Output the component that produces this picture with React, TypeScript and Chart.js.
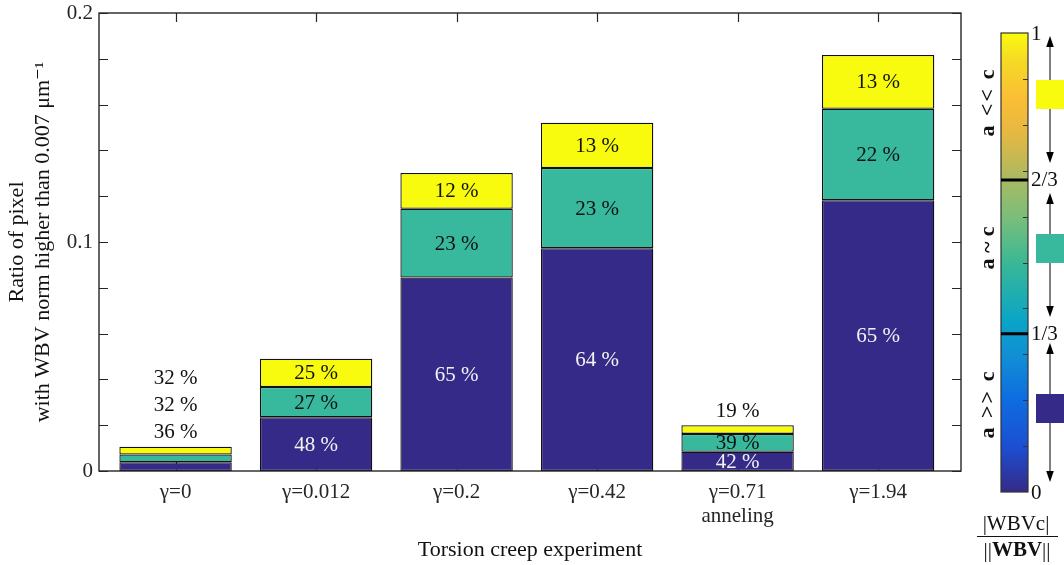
import React, { useEffect, useRef } from 'react';
import { Chart, registerables } from 'chart.js';

Chart.register(...registerables);

// ---- data ----
const CATEGORIES = ['γ=0', 'γ=0.012', 'γ=0.2', 'γ=0.42', 'γ=0.71 anneling', 'γ=1.94'];
const X_TICK_LABELS = [['γ=0'], ['γ=0.012'], ['γ=0.2'], ['γ=0.42'], ['γ=0.71', 'anneling'], ['γ=1.94']];
const SERIES_NAMES = ['a >> c', 'a ~ c', 'a << c'];
const A_GT_C = [0.0038, 0.0235, 0.0845, 0.0973, 0.0084, 0.1182];
const A_SIM_C = [0.0034, 0.0132, 0.03, 0.035, 0.0078, 0.04];
const A_LT_C = [0.0034, 0.0123, 0.0156, 0.0198, 0.0038, 0.0235];
const Y_MIN = 0;
const Y_MAX = 0.2;
const Y_STEP = 0.02;
const Y_LABELED = [0, 0.1, 0.2];
const CB_TICKS = [0.1, 0.2, 0.3, 0.4, 0.5, 0.6, 0.7, 0.8, 0.9];
const CB_BOUNDS = [0.345, 0.68];
const CB_LABELS = [
  { v: 0, t: '0' },
  { v: 0.345, t: '1/3' },
  { v: 0.68, t: '2/3' },
  { v: 1, t: '1' },
];
const CB_TITLE_TOP = '|WBVc|';
const CB_TITLE_BOTTOM = ['||', 'WBV', '||'];
const X_TITLE = 'Torsion creep experiment';
const Y_TITLE = ['Ratio of pixel', 'with WBV norm higher than 0.007 μm⁻¹'];

// ---- styles ----
const COLORS = ['#352A87', '#38B89D', '#F9FB0E'];
const FONT = '"Liberation Serif", "DejaVu Serif", serif';
const AXIS_COLOR = '#262626';
const CB_STOPS: [number, string][] = [
  [0, '#352A87'],
  [0.1, '#1B4FD2'],
  [0.2, '#0E6CE0'],
  [0.3, '#1190D4'],
  [0.37, '#09A4C8'],
  [0.5, '#3AB895'],
  [0.6, '#7BBE7A'],
  [0.68, '#A7BA63'],
  [0.78, '#E5B842'],
  [0.86, '#FBBE35'],
  [0.94, '#F5DA25'],
  [1, '#F9FB0E'],
];

const CB = { x: 1001, y: 33, w: 27, h: 459 };

function cbY(v: number) {
  return CB.y + CB.h * (1 - v);
}

function drawArrow(ctx: CanvasRenderingContext2D, x: number, y1: number, y2: number) {
  const hl = 11;
  const hw = 3.8;
  ctx.strokeStyle = '#000';
  ctx.fillStyle = '#000';
  ctx.lineWidth = 1;
  ctx.beginPath();
  ctx.moveTo(x, y1 + hl - 1);
  ctx.lineTo(x, y2 - hl + 1);
  ctx.stroke();
  ctx.beginPath();
  ctx.moveTo(x, y1);
  ctx.lineTo(x - hw, y1 + hl);
  ctx.lineTo(x + hw, y1 + hl);
  ctx.closePath();
  ctx.fill();
  ctx.beginPath();
  ctx.moveTo(x, y2);
  ctx.lineTo(x - hw, y2 - hl);
  ctx.lineTo(x + hw, y2 - hl);
  ctx.closePath();
  ctx.fill();
}

const axesPlugin = {
  id: 'axesPlugin',
  beforeDatasetsDraw(chart: any) {
    const { ctx, chartArea } = chart;
    const xs = chart.scales.x;
    const ys = chart.scales.y;
    ctx.save();
    ctx.strokeStyle = AXIS_COLOR;
    ctx.lineWidth = 1.2;
    const tl = 9;
    ctx.beginPath();
    for (let v = Y_MIN; v <= Y_MAX + 1e-9; v += Y_STEP) {
      const y = Math.round(ys.getPixelForValue(v)) + 0.5;
      ctx.moveTo(chartArea.left, y);
      ctx.lineTo(chartArea.left + tl, y);
      ctx.moveTo(chartArea.right, y);
      ctx.lineTo(chartArea.right - tl, y);
    }
    for (let i = 0; i < CATEGORIES.length; i++) {
      const x = Math.round(xs.getPixelForValue(i + 1)) + 0.5;
      ctx.moveTo(x, chartArea.top);
      ctx.lineTo(x, chartArea.top + tl);
      ctx.moveTo(x, chartArea.bottom);
      ctx.lineTo(x, chartArea.bottom - tl);
    }
    ctx.stroke();
    ctx.restore();
  },
  afterDatasetsDraw(chart: any) {
    const { ctx, chartArea } = chart;
    const ys = chart.scales.y;
    ctx.save();
    ctx.strokeStyle = AXIS_COLOR;
    ctx.lineWidth = 1.4;
    ctx.strokeRect(chartArea.left, chartArea.top, chartArea.right - chartArea.left, chartArea.bottom - chartArea.top);

    ctx.font = `21px ${FONT}`;
    ctx.textAlign = 'center';
    ctx.textBaseline = 'middle';
    const series = [A_GT_C, A_SIM_C, A_LT_C];
    for (let i = 0; i < CATEGORIES.length; i++) {
      const total = series.reduce((s, arr) => s + arr[i], 0);
      const topPix = ys.getPixelForValue(total);
      let above = 0;
      for (let d = 0; d < series.length; d++) {
        const el = chart.getDatasetMeta(d).data[i];
        const pct = Math.round((series[d][i] / total) * 100);
        const txt = `${pct} %`;
        const h = el.base - el.y;
        if (h >= 14) {
          ctx.fillStyle = d === 0 ? '#f2f2f2' : '#111';
          ctx.fillText(txt, el.x, (el.y + el.base) / 2 + 1);
        } else {
          ctx.fillStyle = '#111';
          ctx.fillText(txt, el.x, topPix - 14 - above * 27);
          above++;
        }
      }
    }
    ctx.restore();
  },
  afterDraw(chart: any) {
    const { ctx } = chart;
    ctx.save();
    const g = ctx.createLinearGradient(0, CB.y + CB.h, 0, CB.y);
    CB_STOPS.forEach(([p, c]) => g.addColorStop(p, c));
    ctx.fillStyle = g;
    ctx.fillRect(CB.x, CB.y, CB.w, CB.h);
    ctx.strokeStyle = '#333';
    ctx.lineWidth = 1.2;
    ctx.strokeRect(CB.x, CB.y, CB.w, CB.h);
    ctx.beginPath();
    CB_TICKS.forEach((v) => {
      const y = Math.round(cbY(v)) + 0.5;
      ctx.moveTo(CB.x + CB.w - 5, y);
      ctx.lineTo(CB.x + CB.w, y);
    });
    ctx.stroke();
    ctx.strokeStyle = '#000';
    ctx.lineWidth = 3;
    ctx.beginPath();
    CB_BOUNDS.forEach((v) => {
      const y = cbY(v);
      ctx.moveTo(CB.x, y);
      ctx.lineTo(CB.x + CB.w, y);
    });
    ctx.stroke();
    ctx.fillStyle = '#111';
    ctx.font = `21px ${FONT}`;
    ctx.textAlign = 'left';
    ctx.textBaseline = 'middle';
    CB_LABELS.forEach(({ v, t }) => {
      ctx.fillText(t, CB.x + CB.w + 3, cbY(v) + 1);
    });
    drawArrow(ctx, 1050, 36, 163);
    drawArrow(ctx, 1050, 193, 317);
    drawArrow(ctx, 1050, 343, 482);
    ctx.fillStyle = COLORS[2];
    ctx.fillRect(1036, 80, 28, 29);
    ctx.fillStyle = COLORS[1];
    ctx.fillRect(1036, 234, 28, 29);
    ctx.fillStyle = COLORS[0];
    ctx.fillRect(1036, 394, 28, 29);
    ctx.fillStyle = '#111';
    ctx.font = `bold 22px ${FONT}`;
    ctx.textAlign = 'center';
    ctx.textBaseline = 'alphabetic';
    const centers = [404, 248, 102];
    SERIES_NAMES.forEach((name, k) => {
      ctx.save();
      ctx.translate(994, centers[k]);
      ctx.rotate(-Math.PI / 2);
      (ctx as any).letterSpacing = name.includes('~') ? '0px' : '2px';
      ctx.fillText(name, 0, 0);
      ctx.restore();
    });
    ctx.font = `21px ${FONT}`;
    ctx.textAlign = 'center';
    ctx.textBaseline = 'middle';
    ctx.fillText(CB_TITLE_TOP, 1016, 524);
    ctx.strokeStyle = '#111';
    ctx.lineWidth = 1;
    ctx.beginPath();
    ctx.moveTo(977, 536.5);
    ctx.lineTo(1058, 536.5);
    ctx.stroke();
    const fonts = [`21px ${FONT}`, `bold 21px ${FONT}`, `21px ${FONT}`];
    const widths = CB_TITLE_BOTTOM.map((t, k) => {
      ctx.font = fonts[k];
      return ctx.measureText(t).width;
    });
    const tw = widths.reduce((a, b) => a + b, 0);
    let xx = 1017 - tw / 2;
    ctx.textAlign = 'left';
    CB_TITLE_BOTTOM.forEach((t, k) => {
      ctx.font = fonts[k];
      ctx.fillText(t, xx, 551);
      xx += widths[k];
    });
    ctx.restore();
  },
};

export default function App() {
  const ref = useRef<HTMLCanvasElement | null>(null);
  useEffect(() => {
    if (!ref.current) return;
    Chart.defaults.font.family = FONT;
    Chart.defaults.color = AXIS_COLOR;
    const series = [A_GT_C, A_SIM_C, A_LT_C];
    const chart = new Chart(ref.current, {
      type: 'bar',
      data: {
        datasets: series.map((arr, d) => ({
          label: SERIES_NAMES[d],
          data: arr.map((v, i) => ({ x: i + 1, y: v })),
          backgroundColor: COLORS[d],
          borderColor: '#111',
          borderWidth: 1.3,
          borderSkipped: false,
          barPercentage: 0.8,
          categoryPercentage: 1,
        })),
      },
      options: {
        animation: false,
        responsive: true,
        maintainAspectRatio: false,
        devicePixelRatio: 1,
        layout: { padding: { left: 0, top: 13, right: 103, bottom: 0 } },
        plugins: { legend: { display: false }, tooltip: { enabled: false } },
        scales: {
          x: {
            type: 'linear',
            stacked: true,
            offset: false,
            min: 0.455,
            max: 6.59,
            grid: { display: false, offset: false, drawTicks: false },
            border: { display: false },
            afterBuildTicks: (scale: any) => {
              scale.ticks = CATEGORIES.map((_, i) => ({ value: i + 1 }));
            },
            afterFit: (scale: any) => {
              scale.height = 94;
              scale.paddingLeft = 0;
              scale.paddingRight = 0;
            },
            ticks: {
              autoSkip: false,
              maxRotation: 0,
              padding: 9,
              color: AXIS_COLOR,
              font: { size: 21, family: FONT, lineHeight: 1.15 },
              callback: (value: any) => X_TICK_LABELS[Math.round(Number(value)) - 1] || '',
            },
            title: {
              display: true,
              text: X_TITLE,
              color: '#111',
              font: { size: 22, family: FONT, lineHeight: 1.2 },
              padding: { top: 4, bottom: 2 },
            },
          },
          y: {
            type: 'linear',
            stacked: true,
            min: Y_MIN,
            max: Y_MAX,
            grid: { display: false, drawTicks: false },
            border: { display: false },
            afterFit: (scale: any) => {
              scale.width = 99;
              scale.paddingTop = 0;
              scale.paddingBottom = 0;
            },
            ticks: {
              stepSize: Y_STEP,
              padding: 6,
              color: AXIS_COLOR,
              font: { size: 21, family: FONT },
              callback: (value: any) => {
                const v = Number(value);
                const hit = Y_LABELED.find((l) => Math.abs(l - v) < 1e-6);
                if (hit === undefined) return '';
                return hit === 0 ? '0' : hit.toFixed(1);
              },
            },
            title: {
              display: true,
              text: Y_TITLE,
              color: '#111',
              font: { size: 22, family: FONT, lineHeight: 1.2 },
              padding: { top: 4, bottom: 0 },
            },
          },
        },
      },
      plugins: [axesPlugin],
    } as any);
    return () => chart.destroy();
  }, []);
  return (
    <div style={{ position: 'fixed', left: 0, top: 0, width: 1064, height: 565, background: '#fff' }}>
      <canvas ref={ref} />
    </div>
  );
}
